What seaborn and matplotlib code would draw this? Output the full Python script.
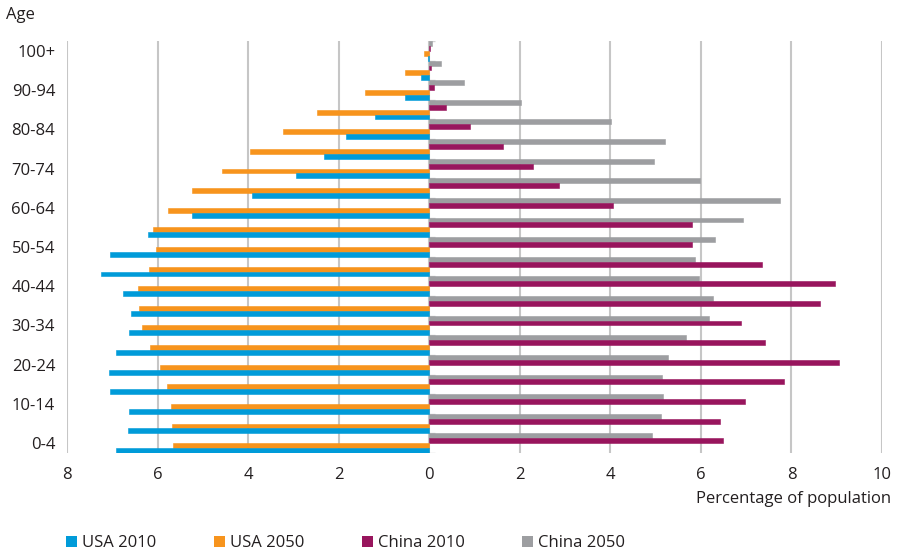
import matplotlib
matplotlib.use("Agg")
import matplotlib.pyplot as plt
from matplotlib.patches import Patch
import pandas as pd
import seaborn as sns

# Age groups, youngest first
ages = ["0-4", "5-9", "10-14", "15-19", "20-24", "25-29", "30-34", "35-39",
        "40-44", "45-49", "50-54", "55-59", "60-64", "65-69", "70-74",
        "75-79", "80-84", "85-89", "90-94", "95-99", "100+"]

# Share of total population (%) per age group
usa_2010 = [6.92, 6.66, 6.64, 7.06, 7.08, 6.92, 6.64, 6.59, 6.77, 7.25, 7.06,
            6.22, 5.25, 3.91, 2.94, 2.32, 1.83, 1.20, 0.54, 0.18, 0.03]
usa_2050 = [5.65, 5.69, 5.71, 5.80, 5.95, 6.17, 6.35, 6.42, 6.44, 6.20, 6.04,
            6.11, 5.78, 5.25, 4.57, 3.95, 3.24, 2.47, 1.42, 0.54, 0.12]
china_2010 = [6.48, 6.42, 6.97, 7.83, 9.04, 7.41, 6.88, 8.62, 8.97, 7.36, 5.80,
              5.80, 4.06, 2.87, 2.30, 1.64, 0.89, 0.37, 0.11, 0.03, 0.01]
china_2050 = [4.92, 5.12, 5.16, 5.14, 5.27, 5.67, 6.17, 6.26, 5.95, 5.87, 6.31,
              6.92, 7.74, 5.98, 4.96, 5.20, 4.02, 2.03, 0.77, 0.26, 0.06]

series_names = ["USA 2010", "USA 2050", "China 2010", "China 2050"]
series_values = [usa_2010, usa_2050, china_2010, china_2050]
series_sign = [-1, -1, 1, 1]  # USA drawn to the left of zero
colors = {"USA 2010": "#009bd9", "USA 2050": "#f7941d",
          "China 2010": "#98155d", "China 2050": "#9d9ea1"}

x_ticks = [-8, -6, -4, -2, 0, 2, 4, 6, 8, 10]

rows = []
for name, vals, sgn in zip(series_names, series_values, series_sign):
    for age, v in zip(ages, vals):
        rows.append({"age": age, "series": name, "value": sgn * v})
df = pd.DataFrame(rows)

sns.set_theme(style="white")
plt.rcParams["font.family"] = ["Open Sans", "DejaVu Sans"]
text_color = "#231f20"
grid_color = "#c6c6c6"
fs = 12

fig = plt.figure(figsize=(8.99, 5.55), dpi=100)
ax = fig.add_axes([67 / 899, 1 - 453 / 555, (882 - 67) / 899, (453 - 41) / 555])

order = ages[::-1]  # oldest at the top
hue_order = ["China 2050", "China 2010", "USA 2050", "USA 2010"]
sns.barplot(data=df, x="value", y="age", hue="series", order=order,
            hue_order=hue_order, palette=colors, orient="h", width=1.0,
            errorbar=None, dodge=True, linewidth=0.4, ax=ax, legend=False,
            saturation=1)
for p in ax.patches:
    p.set_edgecolor(p.get_facecolor())

ax.set_xlim(x_ticks[0], x_ticks[-1])
ax.set_ylim(len(ages) - 0.5, -0.5)
ax.set_axisbelow(True)
ax.grid(axis="x", color=grid_color, linewidth=1.5)
ax.grid(axis="y", visible=False)
for side in ["top", "right", "bottom", "left"]:
    ax.spines[side].set_visible(False)

# Category axis running through zero, with short boundary ticks
ax.axvline(0, color="#d4d4d4", linewidth=1.2, zorder=0.5)
ax.hlines([i - 0.5 for i in range(len(ages) + 1)], 0, 0.12,
          color="#d4d4d4", linewidth=1.0, zorder=0.5)

ax.set_xticks(x_ticks)
ax.set_xticklabels([str(abs(t)) for t in x_ticks])
ax.set_yticks(range(len(order)))
ax.set_yticklabels([a if (len(ages) - 1 - i) % 2 == 0 else ""
                    for i, a in enumerate(order)])
ax.tick_params(axis="x", length=0, pad=10, labelsize=fs, labelcolor=text_color)
ax.tick_params(axis="y", length=0, pad=8.5, labelsize=fs, labelcolor=text_color)
ax.set_xlabel("")
ax.set_ylabel("")

fig.text(6 / 899, 1 - 15 / 555, "Age", ha="left", va="center",
         fontsize=fs, color=text_color)
fig.text(891 / 899, 1 - 499 / 555, "Percentage of population", ha="right",
         va="center", fontsize=fs, color=text_color)

handles = [Patch(facecolor=colors[n], edgecolor="none", label=n)
           for n in series_names]
fig.legend(handles=handles, loc="center left",
           bbox_to_anchor=(66 / 899, 1 - 543 / 555), ncol=4, frameon=False,
           fontsize=fs, handlelength=0.66, handleheight=0.66,
           handletextpad=0.3, columnspacing=3.45, borderpad=0,
           borderaxespad=0, labelcolor=text_color)

fig.savefig("out.png", dpi=100)
